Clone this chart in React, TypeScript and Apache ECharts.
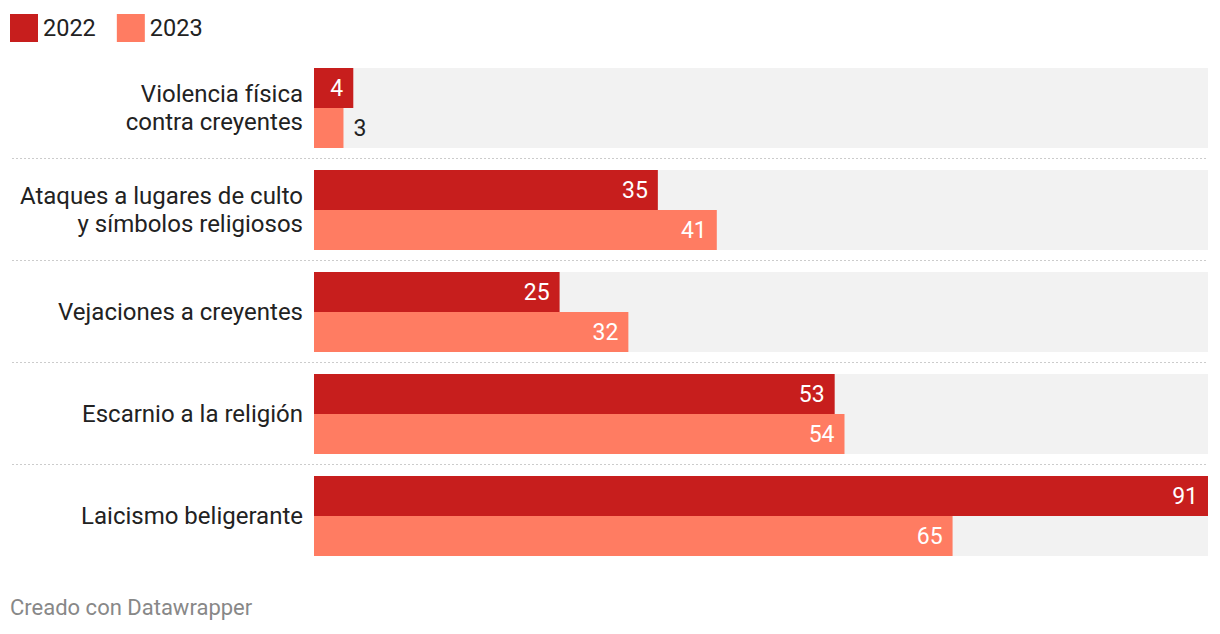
import React, { useEffect, useRef } from "react";
import * as echarts from "echarts";

const categories = [
  "Violencia física\ncontra creyentes",
  "Ataques a lugares de culto\ny símbolos religiosos",
  "Vejaciones a creyentes",
  "Escarnio a la religión",
  "Laicismo beligerante",
];
const values2022 = [4, 35, 25, 53, 91];
const values2023 = [3, 41, 32, 54, 65];
const seriesNames = ["2022", "2023"];
const xMax = 91;

const COLOR_2022 = "#c71e1d";
const COLOR_2023 = "#ff7c62";
const FONT = "Roboto";

function labelFor(v: number) {
  if (v < 4) {
    return { value: v, label: { position: "right", distance: 10, color: "#222222" } };
  }
  return { value: v };
}

export default function App() {
  const ref = useRef<HTMLDivElement>(null);
  useEffect(() => {
    document.body.style.margin = "0";
    const chart = echarts.init(ref.current!, null, { renderer: "svg" });
    const baseSeries = (name: string, data: number[], color: string) => ({
      name,
      type: "bar",
      data: data.map(labelFor),
      barWidth: 40,
      barGap: "0%",
      itemStyle: { color },
      showBackground: true,
      backgroundStyle: { color: "#f2f2f2" },
      label: {
        show: true,
        position: "insideRight",
        distance: 10,
        color: "#ffffff",
        fontFamily: FONT,
        fontSize: 23,
      },
      emphasis: { disabled: true },
    });
    chart.setOption({
      animation: false,
      textStyle: { fontFamily: FONT },
      legend: {
        left: 10,
        top: 14,
        padding: 0,
        itemWidth: 28,
        itemHeight: 28,
        itemGap: 21,
        icon: "rect",
        selectedMode: false,
        textStyle: { fontSize: 23.5, color: "#222222", fontFamily: FONT },
        data: seriesNames,
      },
      grid: { left: 314, right: 12, top: 57, height: 510, containLabel: false },
      xAxis: {
        type: "value",
        min: 0,
        max: xMax,
        show: false,
      },
      yAxis: {
        type: "category",
        inverse: true,
        data: categories,
        axisLine: { show: false },
        axisTick: { show: false },
        splitLine: { show: false },
        axisLabel: {
          margin: 11,
          fontSize: 24,
          lineHeight: 28,
          color: "#222222",
          fontFamily: FONT,
          align: "right",
        },
      },
      series: [
        baseSeries(seriesNames[0], values2022, COLOR_2022),
        baseSeries(seriesNames[1], values2023, COLOR_2023),
      ],
    });
    // separators between category bands
    const lines: any[] = [];
    for (let i = 0; i < categories.length - 1; i++) {
      const a = chart.convertToPixel({ yAxisIndex: 0 }, i) as number;
      const b = chart.convertToPixel({ yAxisIndex: 0 }, i + 1) as number;
      const y = Math.round((a + b) / 2) - 0.5;
      lines.push({
        type: "line",
        shape: { x1: 12, y1: y, x2: 1208, y2: y },
        style: { stroke: "#cccccc", lineWidth: 1, lineDash: [2, 2] },
        silent: true,
      });
    }
    lines.push({
      type: "text",
      left: 10,
      top: 596,
      style: { text: "Creado con Datawrapper", fill: "#888888", fontSize: 22, fontFamily: FONT },
      silent: true,
    });
    chart.setOption({ graphic: lines });
    return () => chart.dispose();
  }, []);
  return <div ref={ref} style={{ width: 1220, height: 634 }} />;
}
